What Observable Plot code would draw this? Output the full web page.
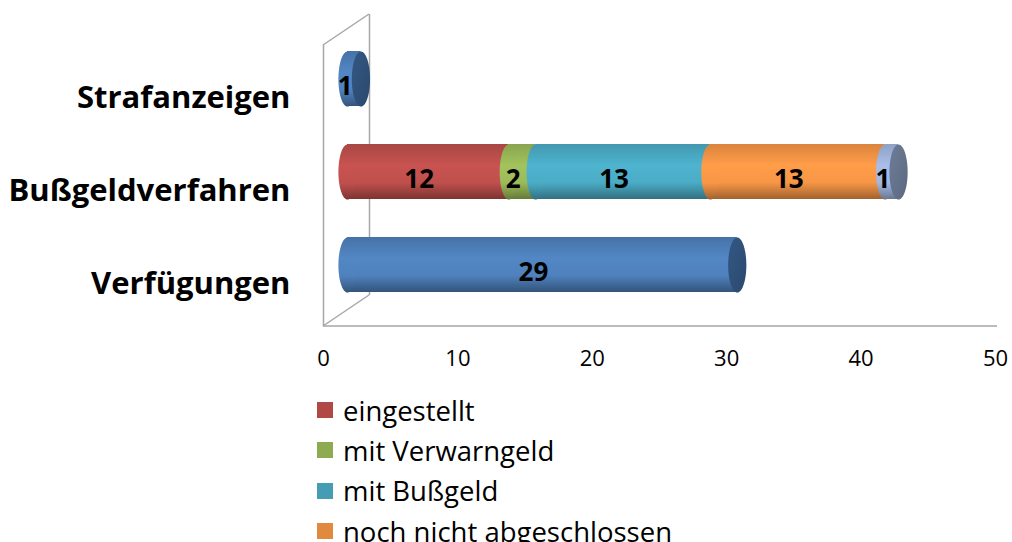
<!DOCTYPE html>
<html>
<head>
<meta charset="utf-8">
<script src="https://cdn.jsdelivr.net/npm/d3@7"></script>
<script src="https://cdn.jsdelivr.net/npm/@observablehq/plot@0.6"></script>
<style>
  html, body { margin: 0; padding: 0; background: #fff; overflow: hidden; }
  body { width: 1012px; height: 542px; font-family: "Open Sans", sans-serif; }
  #legend { position: absolute; left: 317px; top: 390px; }
  .item { display: flex; align-items: center; height: 40.3px; font-size: 27.5px; color: #000; }
  .sw { width: 16px; height: 16px; margin-right: 10px; }
</style>
</head>
<body>
<div id="chart"></div>
<div id="legend"></div>
<script>
// ---- data ----
const categories = ["Strafanzeigen", "Bußgeldverfahren", "Verfügungen"];
const seriesNames = ["eingestellt", "mit Verwarngeld", "mit Bußgeld", "noch nicht abgeschlossen", "sonstige", "Anzahl"];
const seriesColors = ["#c0504d", "#9bbb59", "#4bacc6", "#f79646", "#a2b6df", "#4f81bd"];
const capColors = ["#7a302e", "#5d7035", "#2d6776", "#94592a", "#637089", "#2e4e76"];
const strafanzeigen = [0, 0, 0, 0, 0, 1];
const bussgeldverfahren = [12, 2, 13, 13, 1, 0];
const verfuegungen = [0, 0, 0, 0, 0, 29];
const xTicks = [0, 10, 20, 30, 40, 50];
const legendShown = ["eingestellt", "mit Verwarngeld", "mit Bußgeld", "noch nicht abgeschlossen"];

const valuesByCat = { "Strafanzeigen": strafanzeigen, "Bußgeldverfahren": bussgeldverfahren, "Verfügungen": verfuegungen };
const rows = [];
for (const c of categories) valuesByCat[c].forEach((v, i) => { if (v > 0) rows.push({ cat: c, series: seriesNames[i], idx: i, value: v }); });
const totals = categories.map(c => {
  const vals = valuesByCat[c];
  let last = 0; vals.forEach((v, i) => { if (v > 0) last = i; });
  return { cat: c, total: d3.sum(vals), last };
});

// ---- 3D look parameters ----
const DX = 24, DY = -14;      // bars sit at mid-depth of the 3D frame
const DEPTH_X = 46, DEPTH_Y = -31;
const R = 27.6;               // half bar thickness

const ellipse = {
  draw(ctx, size) {
    const ry = Math.sqrt(size / Math.PI), rx = ry * 0.33, k = 0.5523;
    ctx.moveTo(rx, 0);
    ctx.bezierCurveTo(rx, k * ry, k * rx, ry, 0, ry);
    ctx.bezierCurveTo(-k * rx, ry, -rx, k * ry, -rx, 0);
    ctx.bezierCurveTo(-rx, -k * ry, -k * rx, -ry, 0, -ry);
    ctx.bezierCurveTo(k * rx, -ry, rx, -k * ry, rx, 0);
    ctx.closePath();
  }
};

const W = 1012, H = 385;
const plot = Plot.plot({
  width: W, height: H,
  marginLeft: 323, marginRight: 17, marginTop: 45, marginBottom: 59,
  style: { fontFamily: "Open Sans, sans-serif", background: "transparent", overflow: "visible" },
  x: { domain: [0, 50], axis: null },
  y: { domain: categories, paddingInner: 0.41, paddingOuter: 0.205, axis: null },
  color: { type: "identity" },
  marks: [
    Plot.ruleX([0], { stroke: "#a6a6a6", strokeWidth: 1.5 }),
    Plot.ruleX([0], { stroke: "#a6a6a6", strokeWidth: 1.5, dx: DEPTH_X, dy: DEPTH_Y }),
    Plot.barX(rows, Plot.stackX({ x: "value", y: "cat", fill: d => `url(#g${d.idx})`, dx: DX, dy: DY })),
    Plot.dot(rows, Plot.stackX1({ x: "value", y: "cat", fill: d => `url(#g${d.idx})`, r: R, symbol: ellipse, dx: DX, dy: DY })),
    Plot.dot(totals, { x: "total", y: "cat", fill: d => `url(#c${d.last})`, r: R, symbol: ellipse, dx: DX, dy: DY }),
    Plot.text(rows, Plot.stackX({ x: "value", y: "cat", text: d => String(d.value), fontSize: 26, fontWeight: "bold", fill: "black", dx: DX - 9, dy: DY + 8 })),
    Plot.text(categories, { x: 0, y: d => d, text: d => d, textAnchor: "end", fontSize: 31, fontWeight: "bold", fill: "black", dx: -33, dy: 5 }),
    Plot.text(xTicks, { x: d => d, frameAnchor: "bottom", text: d => String(d), fontSize: 22, fill: "black", dy: 39 })
  ]
});

// gradients + floor / perspective lines of the 3D frame
const svg = d3.select(plot);
const defs = svg.insert("defs", ":first-child");
seriesColors.forEach((c, i) => {
  const g = defs.append("linearGradient").attr("id", "g" + i).attr("x1", 0).attr("y1", 0).attr("x2", 0).attr("y2", 1);
  g.append("stop").attr("offset", "0%").attr("stop-color", d3.color(c).darker(0.35));
  g.append("stop").attr("offset", "38%").attr("stop-color", d3.color(c).brighter(0.12));
  g.append("stop").attr("offset", "70%").attr("stop-color", d3.color(c));
  g.append("stop").attr("offset", "100%").attr("stop-color", d3.color(c).darker(1.2));
});
capColors.forEach((c, i) => {
  const g = defs.append("linearGradient").attr("id", "c" + i).attr("x1", 0).attr("y1", 0).attr("x2", 1).attr("y2", 1);
  g.append("stop").attr("offset", "0%").attr("stop-color", d3.color(c).brighter(0.3));
  g.append("stop").attr("offset", "100%").attr("stop-color", d3.color(c).darker(0.2));
});
const xs = plot.scale("x");
const x0 = xs.apply(0), x1 = W - 15;
const yTop = 45, yBot = H - 59;
const frame = svg.insert("g", "defs + *").attr("stroke", "#a6a6a6").attr("stroke-width", 1.5).attr("fill", "none");
frame.append("line").attr("x1", x0).attr("y1", yBot).attr("x2", x1).attr("y2", yBot);
frame.append("line").attr("x1", x0).attr("y1", yBot).attr("x2", x0 + DEPTH_X).attr("y2", yBot + DEPTH_Y);
frame.append("line").attr("x1", x0).attr("y1", yTop).attr("x2", x0 + DEPTH_X).attr("y2", yTop + DEPTH_Y);

document.getElementById("chart").appendChild(plot);

// legend
const leg = d3.select("#legend");
legendShown.forEach(name => {
  const i = seriesNames.indexOf(name);
  const it = leg.append("div").attr("class", "item");
  it.append("div").attr("class", "sw").style("background", d3.color(seriesColors[i]).darker(0.25));
  it.append("span").text(name);
});
</script>
</body>
</html>
